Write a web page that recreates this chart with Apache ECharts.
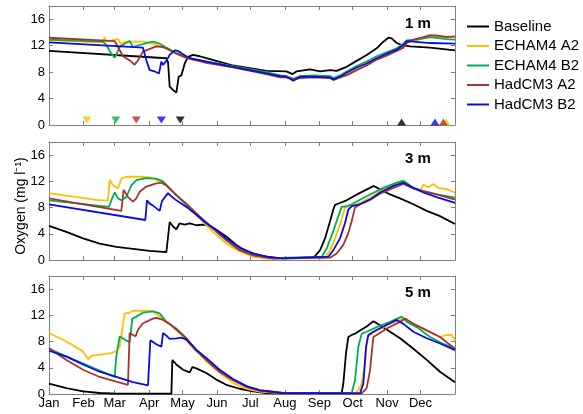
<!DOCTYPE html>
<html>
<head>
<meta charset="utf-8">
<script src="https://cdn.jsdelivr.net/npm/echarts@6/dist/echarts.min.js"></script>
<style>html,body{margin:0;padding:0;background:#fff;}#chart{width:583px;height:414px;}</style>
</head>
<body>
<div id="chart"></div>
<script>
// ---------- DATA ----------
const monthStarts = [0,31,59,90,120,151,181,212,243,273,304,334];
const monthLabels = ['Jan','Feb','Mar','Apr','May','Jun','Jul','Aug','Sep','Oct','Nov','Dec'];
const yTicks = [0,4,8,12,16];
const seriesNames = ['Baseline','ECHAM4 A2','ECHAM4 B2','HadCM3 A2','HadCM3 B2'];
const depthLabels = ['1 m','3 m','5 m'];
// ice-off (down triangles) and ice-on (up triangles) day of year, 1 m panel
const iceOffDays = [118, 34, 60, 78.5, 101];
const iceOnDays  = [317, 357, null, 354.5, 347];

// 1 m
const d1_base = [[0,11.2],[105.5,10.1],[107,9.5],[108.5,5.8],[111.5,5.3],[114.5,4.9],[116,5.0],[116.6,7.3],[119,7.5],[122,9.3],[125,10.3],[129.5,10.6],[131,10.8],[135.5,10.4],[141.4,10.1],[150.4,9.7],[165.4,9.0],[180.4,8.6],[195.4,8.2],[213.4,8.1],[219,7.7],[222.4,8.1],[225.7,8.2],[234.7,8.4],[243.7,8.1],[252.7,8.3],[258.6,8.2],[267.6,8.8],[276.6,9.7],[285.6,10.6],[294.6,11.6],[300.6,12.6],[305.1,13.2],[308.1,13.1],[312.6,12.4],[317.1,12.1],[324.6,11.9],[342.6,11.7],[365,11.3]];
const d1_echA2 = [[0,12.8],[45.5,12.5],[48.5,12.6],[50,13.3],[51.5,12.6],[53,12.5],[59,12.9],[62,13.0],[65,12.2],[68,12.6],[75.5,12.6],[84.5,12.6],[93.5,12.3],[99.5,11.9],[105.5,11.6],[111.5,11.1],[120.5,10.3],[129.5,9.8],[141.4,9.6],[165.4,8.8],[180.4,8.3],[195.4,7.9],[207.7,7.3],[213.4,7.3],[219.7,7.0],[225.7,7.2],[237.7,7.3],[252.7,7.2],[255.6,6.9],[261.6,7.3],[267.6,7.6],[276.6,8.4],[285.6,9.1],[294.6,10.0],[303.6,10.6],[312.6,11.3],[318.6,11.8],[321.6,12.5],[327.6,12.8],[336.6,13.1],[342.6,13.3],[357.5,13.4],[365,13.3]];
const d1_echB2 = [[0,12.9],[48.5,12.6],[51.5,12.1],[56,10.8],[59,10.2],[60.5,10.6],[63.5,11.8],[68,12.3],[72.5,12.7],[75.5,11.8],[81.5,12.1],[87.5,12.4],[93.5,12.6],[99.5,12.3],[105.5,11.7],[114.5,10.9],[123.5,10.2],[141.4,9.6],[165.4,8.9],[195.4,8.0],[207.7,7.5],[213.4,7.4],[219.7,7.0],[225.7,7.4],[237.7,7.5],[252.7,7.4],[255.6,7.1],[261.6,7.5],[267.6,8.1],[276.6,8.9],[285.6,9.6],[294.6,10.4],[303.6,11.0],[312.6,11.6],[318.6,12.3],[321.6,12.8],[330.6,12.9],[342.6,13.3],[357.5,13.0],[365,12.9]];
const d1_hadA2 = [[0,13.2],[59,12.7],[62,11.8],[66.5,10.4],[74,9.6],[77,9.1],[80,9.8],[84.5,11.1],[89,11.4],[96.5,11.9],[102.5,11.8],[108.5,11.3],[114.5,10.8],[123.5,10.2],[141.4,9.4],[165.4,8.7],[195.4,7.7],[207.7,7.2],[213.4,7.2],[219.7,6.9],[225.7,7.1],[237.7,7.2],[252.7,7.1],[255.6,6.8],[261.6,7.2],[267.6,7.5],[276.6,8.3],[285.6,9.0],[294.6,9.9],[303.6,10.5],[312.6,11.2],[318.6,11.7],[321.6,12.4],[327.6,12.9],[336.6,13.3],[342.6,13.6],[350,13.5],[357.5,13.3],[365,13.4]];
const d1_hadB2 = [[0,12.5],[84.5,11.7],[87.5,9.8],[90.5,8.3],[95,8.1],[98.9,7.8],[101,9.6],[102.5,9.1],[105.5,9.7],[108.5,10.6],[113,11.3],[116,11.2],[120.5,10.7],[126.5,10.1],[141.4,9.6],[165.4,8.8],[195.4,7.8],[207.7,7.4],[213.4,7.3],[219.7,6.7],[225.7,7.3],[237.7,7.3],[252.7,7.2],[255.6,6.9],[261.6,7.3],[267.6,7.9],[276.6,8.7],[285.6,9.3],[294.6,10.1],[303.6,10.8],[312.6,11.4],[318.6,12.1],[321.6,12.7],[327.6,12.6],[342.6,12.4],[365,12.3]];

// 3 m
const d3_base = [[0,5.2],[15.6,4.3],[30.6,3.3],[45.5,2.5],[60.5,2.0],[75.5,1.7],[90.5,1.4],[105.5,1.2],[107,1.2],[108.5,5.8],[111.5,5.1],[114.5,4.7],[117.5,5.6],[122,5.4],[126.5,5.6],[132.5,5.3],[138.4,5.4],[144.4,5.2],[150.4,4.6],[159.4,3.6],[168.4,2.3],[177.4,1.3],[189.4,0.7],[204.4,0.3],[237.7,0.3],[239.2,0.5],[243.7,1.5],[248.2,3.3],[252.7,5.9],[255.6,7.7],[257.1,8.4],[261.6,8.7],[267.6,9.1],[273.6,9.7],[282.6,10.5],[288.6,11.0],[291.6,11.3],[297.6,10.8],[306.6,10.0],[315.6,9.4],[327.6,8.5],[339.6,7.5],[351.5,6.7],[365,5.5]];
const d3_echA2 = [[0,10.2],[45.5,9.1],[53,9.1],[54.5,12.2],[57.5,11.4],[62,10.9],[65,12.4],[69.5,12.7],[81.5,12.7],[90.5,12.6],[96.5,12.2],[105.5,11.4],[114.5,9.9],[123.5,8.4],[135.5,6.3],[147.4,4.3],[159.4,2.5],[171.4,1.3],[183.4,0.5],[195.4,0.2],[248.2,0.3],[252.7,1.5],[258.6,3.9],[263.1,6.2],[266.1,8.0],[270.6,8.2],[279.6,8.7],[288.6,9.5],[300.6,10.8],[315.6,11.8],[318.6,11.9],[324.6,11.1],[333.6,10.6],[336.6,11.5],[341.1,11.1],[345.6,11.6],[350,11.0],[357.5,10.8],[365,10.3]];
const d3_echB2 = [[0,9.1],[53.9,8.1],[56,9.1],[59,10.3],[62,9.4],[65,9.1],[69.5,9.6],[74,11.4],[78.5,12.2],[87.5,12.5],[96.5,12.4],[102.5,12.0],[108.5,10.9],[117.5,9.4],[126.5,7.9],[135.5,6.6],[147.4,4.8],[159.4,3.0],[171.4,1.6],[183.4,0.8],[201.4,0.3],[245.2,0.5],[249.7,1.8],[255.6,4.4],[260.1,6.7],[263.1,8.1],[267.6,8.2],[272.1,8.5],[279.6,9.2],[288.6,10.0],[300.6,11.0],[312.6,11.8],[318.6,12.1],[327.6,11.0],[336.6,10.5],[348.5,10.0],[365,9.5]];
const d3_hadA2 = [[0,9.4],[65,7.5],[67.1,10.7],[71,9.6],[75.5,8.9],[78.5,9.4],[81.5,10.4],[87.5,11.2],[96.5,11.7],[101,11.8],[105.5,11.4],[114.5,9.9],[123.5,8.6],[135.5,6.6],[147.4,4.8],[159.4,3.0],[171.4,1.5],[183.4,0.7],[201.4,0.2],[252.7,0.35],[258.6,1.0],[264.6,2.3],[269.1,4.1],[272.1,5.9],[275.1,8.0],[279.6,8.5],[288.6,9.2],[297.6,10.1],[309.6,11.0],[318.6,11.6],[327.6,10.9],[336.6,10.5],[348.5,10.0],[365,9.2]];
const d3_hadB2 = [[0,8.5],[86.6,6.1],[88.1,9.1],[90.5,8.6],[93.5,8.3],[99.5,7.5],[101.6,9.0],[107,10.2],[110,9.7],[114.5,9.1],[123.5,8.1],[132.5,6.9],[141.4,5.6],[150.4,4.6],[159.4,3.3],[171.4,1.9],[183.4,1.0],[195.4,0.5],[210,0.25],[251.2,0.5],[255.6,1.5],[261.6,3.3],[266.1,5.6],[269.1,7.7],[272.1,8.2],[279.6,8.5],[288.6,9.2],[297.6,10.3],[309.6,11.3],[318.6,11.8],[327.6,11.0],[336.6,10.3],[348.5,9.6],[365,8.7]];

// 5 m
const d5_base = [[0,1.6],[15.6,0.9],[30.6,0.4],[45.5,0.15],[60.5,0.05],[110,0.05],[110.9,5.2],[114.5,4.5],[120.5,3.7],[126.5,3.3],[128.9,4.1],[132.5,3.9],[141.4,3.2],[150.4,2.2],[159.4,1.4],[171.4,0.8],[183.4,0.4],[195.4,0.15],[207.7,0.1],[263.1,0.1],[264.6,1.6],[267,6.2],[269.1,8.7],[272.1,9.0],[275.1,9.2],[279.6,9.7],[285.6,10.3],[291.6,11.1],[297.6,10.5],[306.6,9.5],[315.6,8.5],[327.6,6.9],[339.6,5.2],[351.5,3.4],[365,1.8]];
const d5_echA2 = [[0,9.3],[15.6,8.0],[30.6,6.5],[35.1,5.3],[38.1,5.8],[45.5,6.0],[54.5,6.2],[60.5,6.5],[63.5,7.2],[65.9,9.8],[68,12.3],[72.5,12.4],[75.5,12.7],[87.5,12.7],[93.5,12.6],[99.5,11.8],[105.5,11.0],[111.5,10.3],[120.5,8.8],[129.5,7.0],[141.4,5.0],[153.4,3.2],[165.4,1.7],[177.4,0.8],[189.4,0.35],[210.4,0.1],[275.1,0.1],[278.1,0.6],[281.1,1.6],[284.1,4.6],[286.2,8.7],[288.6,9.0],[294.6,9.7],[306.6,10.7],[318.6,11.5],[324.6,11.0],[333.6,10.2],[345.6,9.2],[351.5,8.7],[357.5,9.0],[362,9.0],[365,8.2]];
const d5_echB2 = [[0,6.9],[59,2.6],[60.5,5.7],[63.5,8.8],[68,8.3],[72.5,7.9],[74.9,11.5],[78.5,11.8],[84.5,12.4],[93.5,12.6],[99.5,12.3],[105.5,11.0],[114.5,10.0],[123.5,8.5],[132.5,6.7],[141.4,5.2],[153.4,3.4],[165.4,2.2],[177.4,1.2],[189.4,0.56],[210.4,0.15],[272.1,0.1],[275.1,2.1],[278.1,7.2],[281.1,9.2],[285.6,9.5],[294.6,10.2],[306.6,11.0],[317.1,11.8],[321.6,11.0],[330.6,10.2],[342.6,8.7],[351.5,7.9],[365,6.9]];
const d5_hadA2 = [[0,7.0],[15.6,5.2],[30.6,3.7],[45.5,2.6],[60.5,1.9],[71,1.4],[72.5,9.3],[75.5,9.0],[77.9,8.8],[80,9.8],[84.5,10.8],[93.5,11.5],[96.5,11.6],[102.5,11.3],[108.5,10.7],[114.5,9.8],[123.5,8.5],[132.5,6.7],[141.4,5.2],[153.4,3.4],[165.4,2.1],[177.4,1.1],[189.4,0.5],[210.4,0.1],[281.1,0.1],[285.6,0.9],[288.6,3.6],[290.1,6.2],[291.6,8.7],[294.6,9.0],[303.6,10.0],[315.6,11.0],[320.1,11.5],[327.6,10.7],[339.6,9.7],[351.5,8.7],[357.5,7.9],[365,6.9]];
const d5_hadB2 = [[0,6.6],[15.6,5.7],[30.6,4.5],[45.5,3.4],[60.5,2.6],[75.5,1.8],[89,1.3],[91.1,8.2],[96.5,7.6],[101,7.2],[102.5,9.3],[105.5,8.9],[108.5,8.4],[114.5,8.5],[119,8.6],[123.5,8.3],[132.5,6.7],[141.4,5.5],[153.4,3.7],[165.4,2.3],[177.4,1.2],[189.4,0.6],[210.4,0.15],[279.6,0.1],[282.6,1.6],[285,7.2],[287.1,9.0],[291.6,9.5],[300.6,10.3],[312.6,11.3],[314.1,11.6],[318.6,10.7],[327.6,9.5],[339.6,8.5],[351.5,7.7],[365,6.7]];

// ---------- CHART ----------
const panels = [
  [d1_base, d1_echA2, d1_echB2, d1_hadA2, d1_hadB2],
  [d3_base, d3_echA2, d3_echB2, d3_hadA2, d3_hadB2],
  [d5_base, d5_echA2, d5_echB2, d5_hadA2, d5_hadB2]
];
const colors = ['#000000','#FFC000','#00B050','#A83232','#0A0AE6'];
const FONT = '"Liberation Sans", Arial, sans-serif';
const AX = '#808080';
const grids = [
  {left:49, top:6,   width:406, height:119},
  {left:49, top:142, width:406, height:118},
  {left:49, top:276, width:406, height:118}
];
const labelCenters = [24, 159, 293];

function xAx(i, pos, labels) {
  return {type:'value', gridIndex:i, position:pos, min:0, max:365,
    axisLine:{show:true, onZero:false, lineStyle:{color:AX, width:1}},
    axisTick:{show:true, inside:true, length:4, customValues:monthStarts, lineStyle:{color:AX}},
    axisLabel:{show:labels, customValues:monthStarts, margin:3, fontSize:13, color:'#000', fontFamily:FONT,
      formatter: v => monthLabels[monthStarts.indexOf(Math.round(v))] || ''},
    splitLine:{show:false}};
}
function yAx(i, pos, labels) {
  return {type:'value', gridIndex:i, position:pos, min:0, max:18,
    axisLine:{show:true, onZero:false, lineStyle:{color:AX, width:1}},
    axisTick:{show:true, inside:true, length:4, customValues:yTicks, lineStyle:{color:AX}},
    axisLabel:{show:labels, customValues:yTicks, margin:4, fontSize:13, color:'#000', fontFamily:FONT},
    splitLine:{show:false}};
}

const xAxes = [], yAxes = [], series = [], graphics = [];
grids.forEach((g, i) => {
  xAxes.push(xAx(i, 'bottom', i === 2));
  xAxes.push(xAx(i, 'top', false));
  yAxes.push(yAx(i, 'left', true));
  yAxes.push(yAx(i, 'right', false));
  panels[i].forEach((d, k) => {
    series.push({type:'line', name:seriesNames[k], data:d, xAxisIndex:2*i, yAxisIndex:2*i,
      symbol:'none', showSymbol:false, smooth:false, animation:false, z:2+k,
      lineStyle:{width:1.8, color:colors[k]}, itemStyle:{color:colors[k]}});
  });
  graphics.push({type:'text', x:405, y:labelCenters[i],
    style:{text:depthLabels[i], fill:'#000', font:'bold 15px ' + FONT, align:'left', verticalAlign:'middle'}});
});

// ice markers in the 1 m panel
seriesNames.forEach((n, k) => {
  series.push({type:'scatter', name:'off_' + n, xAxisIndex:0, yAxisIndex:0, animation:false, z:10+k,
    symbol:'triangle', symbolRotate:180, symbolSize:[9,7], itemStyle:{color:colors[k]},
    data:[[iceOffDays[k], 0.75]]});
  if (iceOnDays[k] !== null) {
    series.push({type:'scatter', name:'on_' + n, xAxisIndex:0, yAxisIndex:0, animation:false, z:10+k,
      symbol:'triangle', symbolSize:[9,7], itemStyle:{color:colors[k]},
      data:[[iceOnDays[k], 0.45]]});
  }
});

graphics.push({type:'text', x:21, y:206, rotation:Math.PI/2,
  style:{text:'Oxygen (mg l\u207B\u00B9)', fill:'#000', font:'14px ' + FONT, align:'center', verticalAlign:'middle'}});

const chart = echarts.init(document.getElementById('chart'), null, {renderer:'canvas'});
chart.setOption({
  backgroundColor:'#fff',
  animation:false,
  grid:grids,
  xAxis:xAxes,
  yAxis:yAxes,
  legend:{data:seriesNames, orient:'vertical', left:467, top:18, padding:0,
    icon:'rect', itemWidth:22, itemHeight:2, itemGap:2.5,
    textStyle:{fontSize:15, lineHeight:17, color:'#000', fontFamily:FONT}},
  series:series,
  graphic:graphics
});
</script>
</body>
</html>
